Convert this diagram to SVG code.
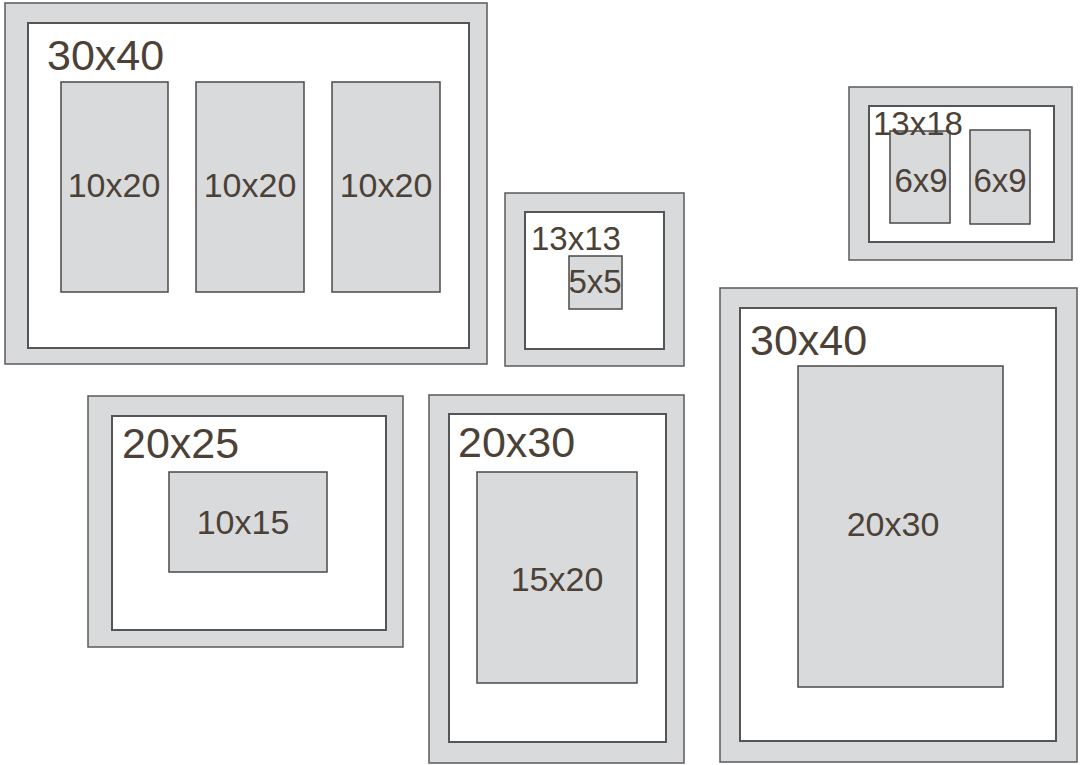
<svg xmlns="http://www.w3.org/2000/svg" width="1080" height="765" viewBox="0 0 1080 765">
<style>
.frame{fill:#d9dadb;stroke:#5a5a5a;stroke-width:1.5}
.mat{fill:#ffffff;stroke:#555555;stroke-width:2}
.open{fill:#d9dadb;stroke:#4a4a4a;stroke-width:1.5}
text{font-family:"Liberation Sans",Arial,sans-serif;fill:#4b4136}
.big{font-size:43px}
.mid{font-size:34px}
.sm{font-size:33px}
.c{text-anchor:middle}
</style>
<rect width="1080" height="765" fill="#ffffff"/>
<g id="frame-30x40-a">
<rect class="frame" x="5" y="3" width="482" height="361"/>
<rect class="mat" x="28" y="23" width="441" height="325"/>
<text class="big" x="47" y="70">30x40</text>
<rect class="open" x="61" y="82" width="107" height="210"/>
<rect class="open" x="196" y="82" width="108" height="210"/>
<rect class="open" x="332" y="82" width="108" height="210"/>
<text class="mid c" x="114" y="197">10x20</text>
<text class="mid c" x="250" y="197">10x20</text>
<text class="mid c" x="386" y="197">10x20</text>
</g>
<g id="frame-13x13">
<rect class="frame" x="505" y="193" width="179" height="173"/>
<rect class="mat" x="525" y="212" width="139" height="137"/>
<text class="sm" x="531" y="250">13x13</text>
<rect class="open" x="569" y="256" width="53" height="53"/>
<text class="sm c" x="595" y="293">5x5</text>
</g>
<g id="frame-13x18">
<rect class="frame" x="849" y="87" width="223" height="173"/>
<rect class="mat" x="869" y="106" width="185" height="136"/>
<rect class="open" x="890" y="131" width="60" height="92"/>
<rect class="open" x="970" y="130" width="60" height="94"/>
<text class="sm" x="873" y="135">13x18</text>
<text class="sm c" x="921" y="192">6x9</text>
<text class="sm c" x="1000" y="192">6x9</text>
</g>
<g id="frame-20x25">
<rect class="frame" x="88" y="396" width="315" height="251"/>
<rect class="mat" x="112" y="416" width="274" height="214"/>
<text class="big" x="122" y="458">20x25</text>
<rect class="open" x="169" y="472" width="158" height="100"/>
<text class="mid c" x="243" y="534">10x15</text>
</g>
<g id="frame-20x30">
<rect class="frame" x="429" y="395" width="255" height="368"/>
<rect class="mat" x="449" y="414" width="217" height="328"/>
<text class="big" x="458" y="457">20x30</text>
<rect class="open" x="477" y="472" width="160" height="211"/>
<text class="mid c" x="557" y="591">15x20</text>
</g>
<g id="frame-30x40-b">
<rect class="frame" x="720" y="288" width="357" height="474"/>
<rect class="mat" x="740" y="308" width="316" height="433"/>
<text class="big" x="750" y="355">30x40</text>
<rect class="open" x="798" y="366" width="205" height="321"/>
<text class="mid c" x="893" y="536">20x30</text>
</g>
<g id="connectors"></g>
</svg>
